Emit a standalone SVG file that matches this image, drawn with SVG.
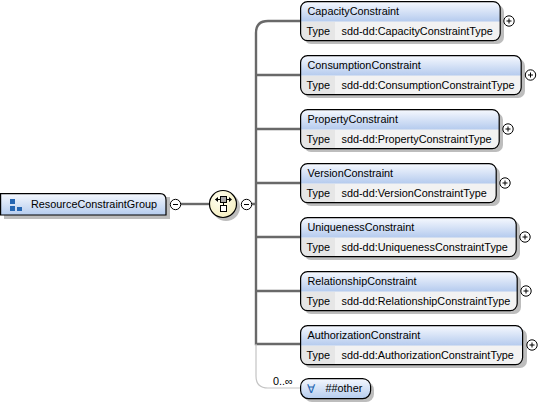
<svg xmlns="http://www.w3.org/2000/svg" width="549" height="405" viewBox="0 0 549 405">
<style>
text{font-family:"Liberation Sans",Arial,sans-serif;font-size:10.85px;fill:#000}
.box{fill:#f2f2f2}
.edge{fill:none;stroke:#000;stroke-width:1.2}
.head{fill:url(#hg)}
.shadow{fill:#bdbdbd}
.cell{fill:#e6e6e6}
.conn{fill:none;stroke:#696969;stroke-width:2.4}
.conn2{fill:none;stroke:#c4c4c4;stroke-width:1.2}
.tog{fill:#fff;stroke:#000;stroke-width:1}
.sym{stroke:#000;stroke-width:1;fill:none}
</style>
<defs>
<linearGradient id="hg" x1="0" y1="0" x2="0" y2="1"><stop offset="0" stop-color="#f5f8fe"/><stop offset="1" stop-color="#b5cbee"/></linearGradient>
<linearGradient id="rg" x1="0" y1="0" x2="0" y2="1"><stop offset="0" stop-color="#f5f8fe"/><stop offset="1" stop-color="#b5ccee"/></linearGradient>
<radialGradient id="yg" cx="0.4" cy="0.35" r="0.7"><stop offset="0" stop-color="#fffff2"/><stop offset="1" stop-color="#f5efc0"/></radialGradient>
<g id="plus"><circle class="tog" r="5.2"/><path class="sym" d="M-2.5 0H2.5M0-2.5V2.5"/></g>
<g id="minus"><circle class="tog" r="5.2"/><path class="sym" d="M-2.5 0H2.5"/></g>
</defs>

<g id="connectors">
<path class="conn" d="M181 204H210"/>
<path class="conn" d="M252 204H256M301 21H268Q256 21 256 33V344H301M256 75H301M256 129H301M256 183H301M256 237H301M256 291H301"/>
<path class="conn2" d="M256 344V376Q256 388 268 388H301"/>
</g>

<g id="ResourceConstraintGroup">
<path class="shadow" d="M4 197H170V219H4Z"/>
<path d="M0.6 193.6H160Q166 193.6 166 200V215H0.6Z" fill="url(#rg)" stroke="#000" stroke-width="1.2"/>
<path d="M10 199h5v5h-5zM10 206h5v5h-5zM17 207h5v4h-5z" fill="#2566b2"/>
<text x="31" y="208">ResourceConstraintGroup</text>
<use href="#minus" x="175.5" y="204.5"/>
</g>

<g id="sequence">
<circle cx="226" cy="207" r="14" fill="#bdbdbd"/>
<circle cx="223" cy="204" r="13.5" fill="url(#yg)" stroke="#000" stroke-width="1.2"/>
<path class="sym" d="M215.5 199.5H231M223.5 202V206"/>
<path d="M215 199.5l3-2.5v5zM232 199.5l-3-2.5v5z" fill="#000"/>
<rect x="220.5" y="196.5" width="6" height="6" fill="#a6a6a6" stroke="#000"/>
<rect x="220.5" y="205.5" width="6" height="6" fill="#fff" stroke="#000"/>
<use href="#minus" x="246.5" y="204.5"/>
</g>

<g id="CapacityConstraint">
<rect class="shadow" x="304" y="5" width="200" height="39" rx="7"/>
<rect class="box" x="300.6" y="1.6" width="199.6" height="39" rx="7"/>
<path class="head" d="M301 21.5V8Q301 2 308 2H493Q500 2 500 8V21.5Z"/>
<path class="cell" d="M301 22H335V40H308Q301 40 301 34Z"/>
<rect class="edge" x="300.6" y="1.6" width="199.6" height="39" rx="7"/>
<text x="307.5" y="15">CapacityConstraint</text><text x="306.5" y="35">Type</text><text x="341.5" y="35">sdd-dd:CapacityConstraintType</text>
<use href="#plus" x="509" y="21"/>
</g>

<g id="ConsumptionConstraint">
<rect class="shadow" x="304" y="59" width="221" height="39" rx="7"/>
<rect class="box" x="300.6" y="55.6" width="220.6" height="39" rx="7"/>
<path class="head" d="M301 75.5V62Q301 56 308 56H514Q521 56 521 62V75.5Z"/>
<path class="cell" d="M301 76H335V94H308Q301 94 301 88Z"/>
<rect class="edge" x="300.6" y="55.6" width="220.6" height="39" rx="7"/>
<text x="307.5" y="69">ConsumptionConstraint</text><text x="306.5" y="89">Type</text><text x="341.5" y="89">sdd-dd:ConsumptionConstraintType</text>
<use href="#plus" x="530.5" y="75"/>
</g>

<g id="PropertyConstraint">
<rect class="shadow" x="304" y="113" width="199" height="39" rx="7"/>
<rect class="box" x="300.6" y="109.6" width="198.6" height="39" rx="7"/>
<path class="head" d="M301 129.5V116Q301 110 308 110H492Q499 110 499 116V129.5Z"/>
<path class="cell" d="M301 130H335V148H308Q301 148 301 142Z"/>
<rect class="edge" x="300.6" y="109.6" width="198.6" height="39" rx="7"/>
<text x="307.5" y="123">PropertyConstraint</text><text x="306.5" y="143">Type</text><text x="341.5" y="143">sdd-dd:PropertyConstraintType</text>
<use href="#plus" x="508" y="129"/>
</g>

<g id="VersionConstraint">
<rect class="shadow" x="304" y="167" width="196" height="39" rx="7"/>
<rect class="box" x="300.6" y="163.6" width="195.6" height="39" rx="7"/>
<path class="head" d="M301 183.5V170Q301 164 308 164H489Q496 164 496 170V183.5Z"/>
<path class="cell" d="M301 184H335V202H308Q301 202 301 196Z"/>
<rect class="edge" x="300.6" y="163.6" width="195.6" height="39" rx="7"/>
<text x="307.5" y="177">VersionConstraint</text><text x="306.5" y="197">Type</text><text x="341.5" y="197">sdd-dd:VersionConstraintType</text>
<use href="#plus" x="505" y="183"/>
</g>

<g id="UniquenessConstraint">
<rect class="shadow" x="304" y="221" width="216" height="39" rx="7"/>
<rect class="box" x="300.6" y="217.6" width="215.6" height="39" rx="7"/>
<path class="head" d="M301 237.5V224Q301 218 308 218H509Q516 218 516 224V237.5Z"/>
<path class="cell" d="M301 238H335V256H308Q301 256 301 250Z"/>
<rect class="edge" x="300.6" y="217.6" width="215.6" height="39" rx="7"/>
<text x="307.5" y="231">UniquenessConstraint</text><text x="306.5" y="251">Type</text><text x="341.5" y="251">sdd-dd:UniquenessConstraintType</text>
<use href="#plus" x="525" y="237"/>
</g>

<g id="RelationshipConstraint">
<rect class="shadow" x="304" y="275" width="217" height="39" rx="7"/>
<rect class="box" x="300.6" y="271.6" width="216.6" height="39" rx="7"/>
<path class="head" d="M301 291.5V278Q301 272 308 272H510Q517 272 517 278V291.5Z"/>
<path class="cell" d="M301 292H335V310H308Q301 310 301 304Z"/>
<rect class="edge" x="300.6" y="271.6" width="216.6" height="39" rx="7"/>
<text x="307.5" y="285">RelationshipConstraint</text><text x="306.5" y="305">Type</text><text x="341.5" y="305">sdd-dd:RelationshipConstraintType</text>
<use href="#plus" x="526" y="291"/>
</g>

<g id="AuthorizationConstraint">
<rect class="shadow" x="304" y="329" width="223" height="39" rx="7"/>
<rect class="box" x="300.6" y="325.6" width="222" height="39" rx="7"/>
<path class="head" d="M301 345.5V332Q301 326 308 326H516Q523 326 523 332V345.5Z"/>
<path class="cell" d="M301 346H335V364H308Q301 364 301 358Z"/>
<rect class="edge" x="300.6" y="325.6" width="222" height="39" rx="7"/>
<text x="307.5" y="339">AuthorizationConstraint</text><text x="306.5" y="359">Type</text><text x="341.5" y="359">sdd-dd:AuthorizationConstraintType</text>
<use href="#plus" x="532" y="345"/>
</g>

<g id="other">
<rect class="shadow" x="304" y="382" width="70" height="20" rx="8"/>
<rect x="300.6" y="378.6" width="70" height="20" rx="8" fill="url(#rg)" stroke="#000" stroke-width="1.2"/>
<text x="307" y="393" style="font-size:12px;fill:#2566b2">∀</text>
<text x="325.5" y="392">##other</text>
<text x="273" y="384.5">0..∞</text>
</g>
</svg>
